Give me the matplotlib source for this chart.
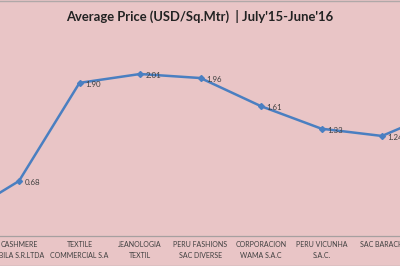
import matplotlib
matplotlib.use("Agg")
import matplotlib.pyplot as plt
from matplotlib.lines import Line2D

plt.rcParams['font.family'] = ['Lato', 'DejaVu Sans']

# companies (first and last sit outside the visible crop)
companies = ["", "CASHMERE\nABILA S.R.LTDA", "TEXTILE\nCOMMERCIAL S.A", "JEANOLOGIA\nTEXTIL",
             "PERU FASHIONS\nSAC DIVERSE", "CORPORACION\nWAMA S.A.C", "PERU VICUNHA\nS.A.C.",
             "SAC BARACH", ""]
prices = [0.22, 0.68, 1.90, 2.01, 1.96, 1.61, 1.33, 1.24, 1.56]
labels = ["", "0.68", "1.90", "2.01", "1.96", "1.61", "1.33", "1.24", ""]

bg = "#e9c5c6"
line_col = "#4a7fc1"
txt = "#404040"

W, H = 400, 266
fig = plt.figure(figsize=(W / 100, H / 100), dpi=100, facecolor=bg)

# axes extends beyond the figure on both sides (cropped chart)
x_left, x_right = -41.5, 442.5
y_bot, y_top = 235.7, 34.6
ax = fig.add_axes([x_left / W, (H - y_bot) / H, (x_right - x_left) / W, (y_bot - y_top) / H])
ax.set_facecolor("none")

xs = list(range(len(prices)))
ax.plot(xs, prices, color=line_col, lw=1.8, marker="D", ms=3, clip_on=False, zorder=3)
for x, v, t in zip(xs, prices, labels):
    if t:
        ax.annotate(t, (x, v), xytext=(4, -1), textcoords="offset points",
                    ha="left", va="center", fontsize=5.7, color=txt)

ax.set_xlim(0, len(prices) - 1)
ax.set_ylim(0, 2.5)
ax.set_yticks([])
ax.set_xticks(xs)
ax.set_xticklabels(companies, fontsize=5, color=txt, linespacing=1.6)
ax.tick_params(axis="x", length=0, pad=4)
for s in ["top", "left", "right"]:
    ax.spines[s].set_visible(False)
ax.spines["bottom"].set_color("#a6a0a0")
ax.spines["bottom"].set_linewidth(0.9)

fig.text(0.5, 1 - 16 / H, "Average Price (USD/Sq.Mtr)  | July'15-June'16", ha="center", va="center",
         fontsize=9.4, fontweight="bold", color="#222222")

fig.add_artist(Line2D([0, 1], [1 - 0.5 / H, 1 - 0.5 / H], color="#b0a8a8", lw=1))
fig.add_artist(Line2D([0, 1], [0.5 / H, 0.5 / H], color="#b0a8a8", lw=1))

fig.savefig("out.png", dpi=100, facecolor=bg)
